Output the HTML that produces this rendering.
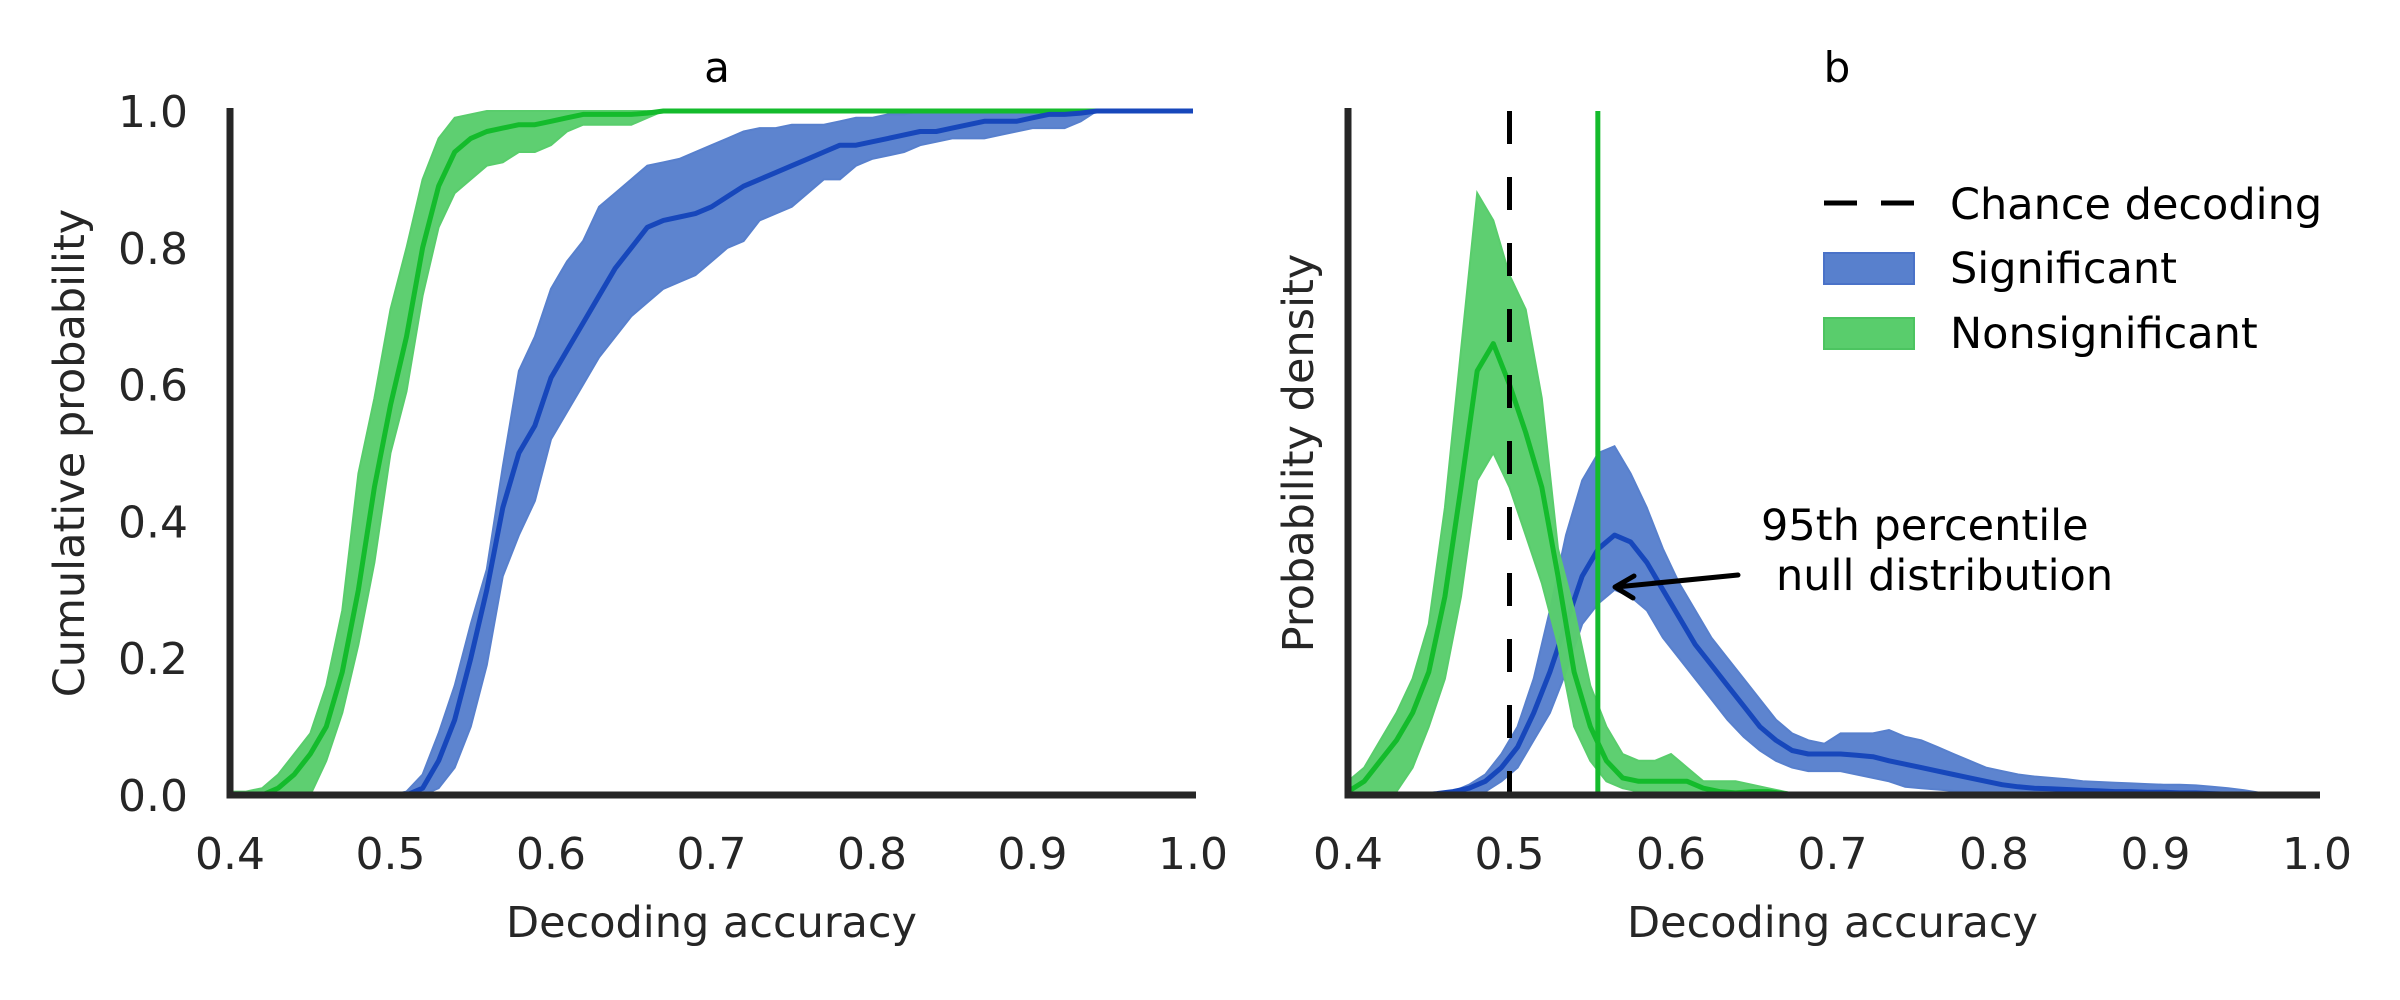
<!DOCTYPE html>
<html><head><meta charset="utf-8"><style>
html,body{margin:0;padding:0;background:#fff;}
svg{display:block;}
text{font-family:"DejaVu Sans","Liberation Sans",sans-serif;}
</style></head><body>
<svg id="chart" width="2400" height="1000" viewBox="0 0 2400 1000" xmlns="http://www.w3.org/2000/svg">
<g id="panelA"></g>
<g id="panelB"></g>
</svg>
<script>
// ---- data ----
const xTicks = [0.4,0.5,0.6,0.7,0.8,0.9,1.0];
const xTickLabels = ["0.4","0.5","0.6","0.7","0.8","0.9","1.0"];
const yTicksA = [0,0.2,0.4,0.6,0.8,1.0];
const yTickLabelsA = ["0.0","0.2","0.4","0.6","0.8","1.0"];

// panel a: CDFs, x from 0.40 step 0.01 to 1.00
const cdfX = [];
for (let i=0;i<=60;i++) cdfX.push(+(0.4+i*0.01).toFixed(2));
const greenCdfMean = [0,0,0,0.01,0.03,0.06,0.10,0.18,0.30,0.45,0.57,0.67,0.80,0.89,0.94,0.96,0.97,0.975,0.98,0.98,0.985,0.99,0.995,0.995,0.995,0.995,0.997,1,1,1,1,1,1,1,1,1,1,1,1,1,1,1,1,1,1,1,1,1,1,1,1,1,1,1,1,1,1,1,1,1,1];
const greenCdfUpper = [0.005,0.005,0.01,0.03,0.06,0.09,0.16,0.27,0.47,0.58,0.71,0.80,0.90,0.96,0.99,0.995,1,1,1,1,1,1,1,1,1,1,1,1,1,1,1,1,1,1,1,1,1,1,1,1,1,1,1,1,1,1,1,1,1,1,1,1,1,1,1,1,1,1,1,1,1];
const greenCdfLower = [0,0,0,0,0,0,0.05,0.12,0.22,0.34,0.50,0.59,0.73,0.83,0.88,0.90,0.92,0.925,0.94,0.94,0.95,0.97,0.98,0.98,0.98,0.98,0.99,1,1,1,1,1,1,1,1,1,1,1,1,1,1,1,1,1,1,1,1,1,1,1,1,1,1,1,1,1,1,1,1,1,1];
const blueCdfMean = [0,0,0,0,0,0,0,0,0,0,0,0,0.01,0.05,0.11,0.20,0.30,0.42,0.50,0.54,0.61,0.65,0.69,0.73,0.77,0.80,0.83,0.84,0.845,0.85,0.86,0.875,0.89,0.90,0.91,0.92,0.93,0.94,0.95,0.95,0.955,0.96,0.965,0.97,0.97,0.975,0.98,0.985,0.985,0.985,0.99,0.995,0.995,0.997,1,1,1,1,1,1,1];
const blueCdfUpper = [0,0,0,0,0,0,0,0,0,0,0,0.005,0.03,0.09,0.16,0.25,0.33,0.48,0.62,0.67,0.74,0.78,0.81,0.86,0.88,0.90,0.92,0.925,0.93,0.94,0.95,0.96,0.97,0.975,0.975,0.98,0.98,0.98,0.985,0.99,0.99,0.995,0.995,1,1,1,1,1,1,1,1,1,1,1,1,1,1,1,1,1,1];
const blueCdfLower = [0,0,0,0,0,0,0,0,0,0,0,0,0,0.01,0.04,0.10,0.19,0.32,0.38,0.43,0.52,0.56,0.60,0.64,0.67,0.70,0.72,0.74,0.75,0.76,0.78,0.80,0.81,0.84,0.85,0.86,0.88,0.90,0.90,0.92,0.93,0.935,0.94,0.95,0.955,0.96,0.96,0.96,0.965,0.97,0.975,0.975,0.975,0.985,1,1,1,1,1,1,1];

// panel b: densities (fraction of axis height)
const greenPdfMean  = [0.005,0.02,0.05,0.08,0.12,0.18,0.29,0.45,0.62,0.66,0.60,0.53,0.45,0.32,0.18,0.10,0.05,0.025,0.02,0.02,0.02,0.02,0.01,0.005,0.003,0.005,0.005,0.002,0];
const greenPdfUpper = [0.02,0.04,0.08,0.12,0.17,0.25,0.42,0.65,0.88,0.84,0.76,0.71,0.58,0.36,0.27,0.16,0.10,0.06,0.05,0.05,0.06,0.04,0.02,0.02,0.02,0.015,0.01,0.005,0];
const greenPdfLower = [0,0,0,0.005,0.04,0.10,0.17,0.29,0.46,0.50,0.45,0.38,0.31,0.22,0.10,0.05,0.02,0.01,0.005,0.005,0,0,0,0,0,0,0,0,0];
const bluePdfMean  = [0,0,0,0,0,0.002,0.005,0.01,0.02,0.04,0.07,0.12,0.18,0.25,0.32,0.36,0.38,0.37,0.34,0.30,0.26,0.22,0.19,0.16,0.13,0.10,0.08,0.065,0.06,0.06,0.06,0.058,0.056,0.05,0.045,0.04,0.035,0.03,0.025,0.02,0.015,0.012,0.01,0.009,0.008,0.007,0.006,0.005,0.005,0.004,0.004,0.003,0.003,0.002,0.001,0.001,0.001,0];
const bluePdfUpper = [0,0,0,0,0,0.002,0.005,0.015,0.03,0.06,0.10,0.17,0.27,0.38,0.46,0.50,0.51,0.47,0.42,0.36,0.31,0.27,0.23,0.20,0.17,0.14,0.11,0.09,0.08,0.075,0.09,0.09,0.09,0.095,0.085,0.08,0.07,0.06,0.05,0.04,0.035,0.03,0.027,0.025,0.023,0.02,0.019,0.018,0.017,0.016,0.015,0.015,0.014,0.012,0.01,0.007,0.003,0];
const bluePdfLower = [0,0,0,0,0,0,0,0,0.005,0.02,0.04,0.08,0.12,0.18,0.25,0.28,0.30,0.29,0.27,0.23,0.20,0.17,0.14,0.11,0.085,0.065,0.05,0.04,0.035,0.035,0.035,0.03,0.025,0.02,0.012,0.01,0.008,0.006,0.005,0.004,0.003,0.003,0.002,0.002,0.002,0.002,0.001,0.001,0.001,0,0,0,0,0,0,0,0,0];
const greenPdfStart = [0.40];
const bluePdfStart = [0.405];
const chanceLevel = [0.5];
const nullPercentile = [0.5547];

// ---- layout ----
const NS="http://www.w3.org/2000/svg";
const Y0=795, Y1=111;
const xA = v => 230 + (v-0.4)*1605;
const xB = v => 1348 + (v-0.4)*1615;
const yS = v => Y0 - v*(Y0-Y1);
const GREEN_FILL="rgb(89,205,108)", GREEN_LINE="#14bb2c", BLUE_FILL="rgb(88,128,205)", BLUE_LINE="#1747bb", INK="#262626";

function mk(parent, tag, attrs){ const e=document.createElementNS(NS,tag); for(const k in attrs) e.setAttribute(k,attrs[k]); parent.appendChild(e); return e; }
function xsFrom(n,s){ const a=[]; for(let i=0;i<n;i++) a.push(s+i*0.01); return a; }

function band(g, xf, xs, lo, hi, fill, name){
  let d="M"+xs.map((x,i)=>xf(x).toFixed(1)+","+yS(hi[i]).toFixed(1)).join("L");
  for(let i=xs.length-1;i>=0;i--) d+="L"+xf(xs[i]).toFixed(1)+","+yS(lo[i]).toFixed(1);
  const p=mk(g,"path",{d:d+"Z",fill:fill,"fill-opacity":"0.97",stroke:fill,"stroke-width":"2"});
  
  
}
function line(g, xf, xs, ys, color, name){
  const d="M"+xs.map((x,i)=>xf(x).toFixed(1)+","+yS(ys[i]).toFixed(1)).join("L");
  const p=mk(g,"path",{d:d,fill:"none",stroke:color,"stroke-width":"5","stroke-linejoin":"round"});
  
  
}
function text(g, x, y, s, size, anchor, name, extra){
  const t=mk(g,"text",Object.assign({x:x,y:y,"font-size":size,fill:INK,"text-anchor":anchor},extra||{}));
  t.textContent=s;
  
  
  return t;
}
function axes(g, xf, withYTicks, ylabel, ylabelX, title, titleX){
  const s=mk(g,"path",{d:`M${xf(0.4)},108L${xf(0.4)},795L${xf(1.0)+3},795`,fill:"none",stroke:INK,"stroke-width":"7"});
  
  
  xTicks.forEach((v,i)=>text(g,xf(v),869,xTickLabels[i],44,"middle","x-tick-label"));
  if(withYTicks) yTicksA.forEach((v,i)=>text(g,188,yS(v)+16,yTickLabelsA[i],44,"end","y-tick-label"));
  text(g,(xf(0.4)+xf(1.0))/2,937,"Decoding accuracy",43,"middle","x-axis-title");
  text(g,0,0,ylabel,43,"middle","y-axis-title",{transform:`translate(${ylabelX},453) rotate(-90)`});
  const t=text(g,titleX,82,title,42,"middle","panel-title"); t.setAttribute("fill","#000");
}

// panel a
const gA=document.getElementById("panelA");
band(gA,xA,cdfX,greenCdfLower,greenCdfUpper,GREEN_FILL,"nonsignificant-cdf-band");
band(gA,xA,cdfX,blueCdfLower,blueCdfUpper,BLUE_FILL,"significant-cdf-band");
line(gA,xA,cdfX,greenCdfMean,GREEN_LINE,"nonsignificant-cdf-line");
line(gA,xA,cdfX,blueCdfMean,BLUE_LINE,"significant-cdf-line");
axes(gA,xA,true,"Cumulative probability",84,"a",717);

// panel b
const gB=document.getElementById("panelB");
const bx=xsFrom(bluePdfMean.length,bluePdfStart[0]), gx=xsFrom(greenPdfMean.length,greenPdfStart[0]);
band(gB,xB,bx,bluePdfLower,bluePdfUpper,BLUE_FILL,"significant-density-band");
line(gB,xB,bx,bluePdfMean,BLUE_LINE,"significant-density-line");
band(gB,xB,gx,greenPdfLower,greenPdfUpper,GREEN_FILL,"nonsignificant-density-band");
line(gB,xB,gx,greenPdfMean,GREEN_LINE,"nonsignificant-density-line");
const ch=mk(gB,"line",{x1:xB(chanceLevel[0]),x2:xB(chanceLevel[0]),y1:111,y2:795,stroke:"#000","stroke-width":"5","stroke-dasharray":"33,33"});


const nl=mk(gB,"line",{x1:xB(nullPercentile[0]),x2:xB(nullPercentile[0]),y1:111,y2:795,stroke:GREEN_LINE,"stroke-width":"5"});


axes(gB,xB,false,"Probability density",1313,"b",1837);

// legend
const lg=mk(gB,"g",{});


const ld=mk(lg,"line",{x1:1824,x2:1914,y1:203,y2:203,stroke:"#000","stroke-width":"5","stroke-dasharray":"33,24"});


const r1=mk(lg,"rect",{x:1824,y:253,width:90,height:31,fill:BLUE_FILL,stroke:"#4a72c8","stroke-width":"2"});


const r2=mk(lg,"rect",{x:1824,y:318,width:90,height:31,fill:GREEN_FILL,stroke:"#4cc460","stroke-width":"2"});


[["Chance decoding",219],["Significant",283],["Nonsignificant",348]].forEach(a=>{const t=text(lg,1950,a[1],a[0],43,"start","legend-entry"); t.setAttribute("fill","#000");});

// annotation
const an=mk(gB,"g",{});


let t1=text(an,1761,540,"95th percentile",43,"start","annotation-text"); t1.setAttribute("fill","#000");
let t2=text(an,1776,590,"null distribution",43,"start","annotation-text"); t2.setAttribute("fill","#000");
const ar=mk(an,"path",{d:"M1738,575L1616,587M1634,576L1615,587L1633,598",fill:"none",stroke:"#000","stroke-width":"5","stroke-linecap":"round","stroke-linejoin":"round"});


</script>
</body></html>
